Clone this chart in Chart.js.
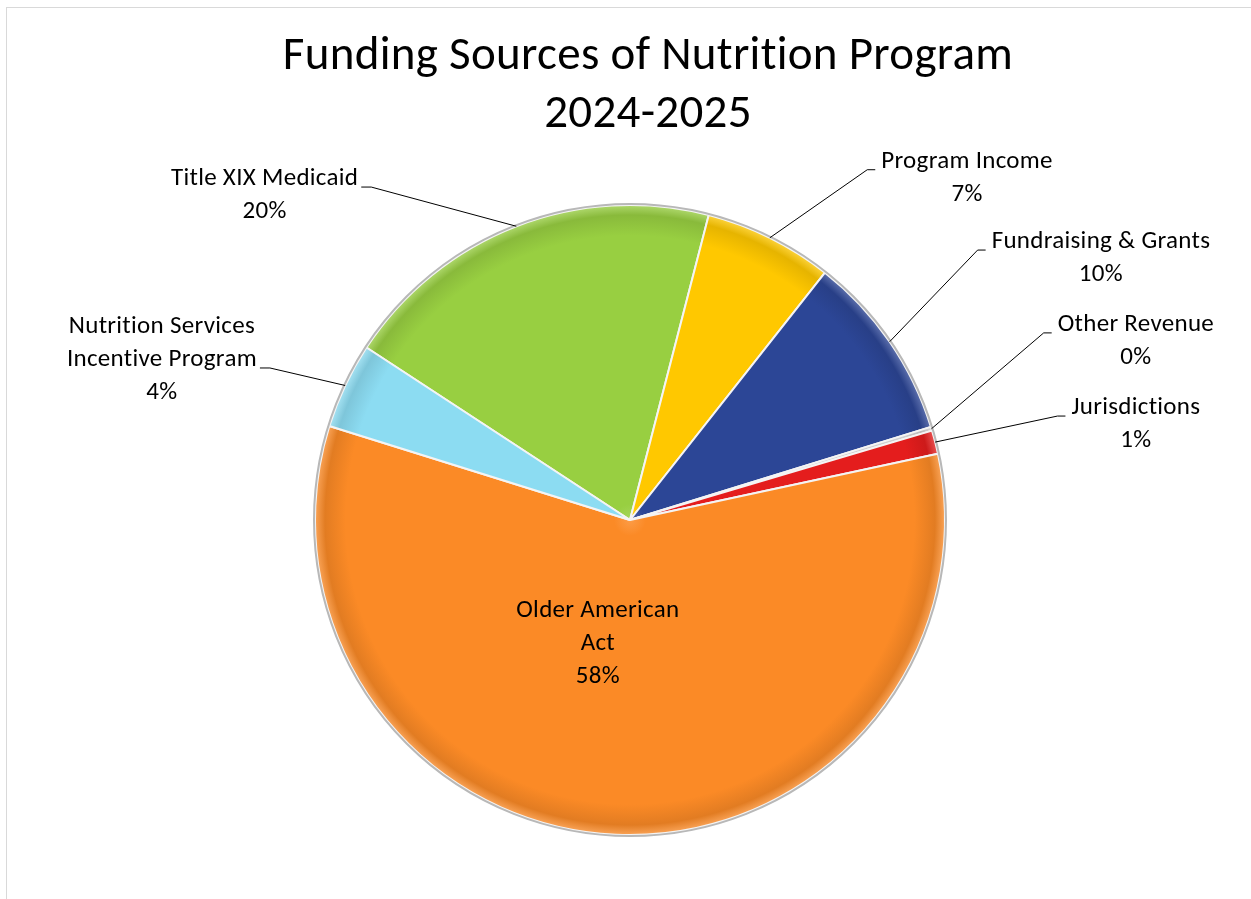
<!DOCTYPE html>
<html>
<head>
<meta charset="utf-8">
<title>Funding Sources of Nutrition Program 2024-2025</title>
<script src="https://cdn.jsdelivr.net/npm/chart.js@4.4.1/dist/chart.umd.min.js"></script>
<style>
    html, body {margin: 0; padding: 0; background: #fff;}
    #wrap {position: relative; width: 1251px; height: 899px; overflow: hidden;}
    #frame {position: absolute; left: 6px; top: 7px; width: 1300px; height: 950px; border: 1px solid #d9d9d9;}
    #pie {position: absolute; left: 0; top: 0;}
</style>
</head>
<body>
<div id="wrap">
    <div id="frame"></div>
    <canvas id="pie" width="1251" height="899" style="width:1251px;height:899px"></canvas>
</div>
<script>
// slices in clockwise order, starting at the Title XIX edge
const sources = ['Title XIX Medicaid', 'Program Income', 'Fundraising & Grants', 'Other Revenue',
    'Jurisdictions', 'Older American Act', 'Nutrition Services Incentive Program'];
const shares = [19.8, 6.6, 9.6, 0.2, 1.2, 58.2, 4.4];
// how each name is broken over lines in the data label
const labelLines = [['Title XIX Medicaid'], ['Program Income'], ['Fundraising & Grants'], ['Other Revenue'],
    ['Jurisdictions'], ['Older American', 'Act'], ['Nutrition Services', 'Incentive Program']];
const sliceColors = ['#98cf41', '#ffc800', '#2c4696', '#d0d0d0', '#e41d1d', '#fb8a26', '#8cdcf2'];

// label centre relative to pie centre, in units of the radius; inside = no leader line
const labelSpots = [[-1.16, -1.03], [1.07, -1.085], [1.495, -0.83], [1.606, -0.567],
    [1.606, -0.303], [-0.102, 0.394], [-1.486, -0.508]];
const insideLabel = [false, false, false, false, false, true, false];

const fontFamily = 'Carlito, Calibri, Lato, sans-serif';

function shade(hex, amt) {
    let n = parseInt(hex.slice(1), 16);
    let r = n >> 16, g = (n >> 8) & 255, b = n & 255;
    const f = c => Math.round(amt >= 0 ? c + (255 - c) * amt : c * (1 + amt));
    return 'rgb(' + f(r) + ',' + f(g) + ',' + f(b) + ')';
}

function sliceFill(context) {
    const base = sliceColors[context.dataIndex];
    const chart = context.chart;
    const area = chart.chartArea;
    if (!area) return base;
    const cx = (area.left + area.right) / 2;
    const cy = (area.top + area.bottom) / 2;
    const r = Math.min(area.width, area.height) / 2;
    const g = chart.ctx.createRadialGradient(cx, cy, 0, cx, cy, r);
    g.addColorStop(0, shade(base, 0.15));
    g.addColorStop(0.05, base);
    g.addColorStop(0.9, base);
    g.addColorStop(0.965, shade(base, -0.1));
    g.addColorStop(1, shade(base, 0.25));
    return g;
}

const titlePlugin = {
    id: 'bigTitle',
    afterDraw(chart) {
        const ctx = chart.ctx;
        const meta = chart.getDatasetMeta(0);
        const cx = meta.data[0].x + 18;
        ctx.save();
        ctx.fillStyle = '#000';
        ctx.textAlign = 'center';
        ctx.textBaseline = 'middle';
        ctx.font = '47px ' + fontFamily;
        ctx.letterSpacing = '0.3px';
        ctx.fillText('Funding Sources of Nutrition Program', cx, 57);
        ctx.fillText('2024-2025', cx, 115);
        ctx.restore();
    }
};

const rimPlugin = {
    id: 'rim',
    afterDatasetsDraw(chart) {
        const arc = chart.getDatasetMeta(0).data[0];
        const ctx = chart.ctx;
        ctx.save();
        ctx.strokeStyle = '#b8b8b8';
        ctx.lineWidth = 2;
        ctx.beginPath();
        ctx.arc(arc.x, arc.y, arc.outerRadius + 1, 0, Math.PI * 2);
        ctx.stroke();
        ctx.restore();
    }
};

const sliceLabels = {
    id: 'sliceLabels',
    afterDraw(chart) {
        const ctx = chart.ctx;
        const meta = chart.getDatasetMeta(0);
        const total = shares.reduce((a, b) => a + b, 0);
        const lh = 33;
        ctx.save();
        ctx.font = '25px ' + fontFamily;
        ctx.letterSpacing = '0.3px';
        ctx.fillStyle = '#000';
        ctx.strokeStyle = '#000';
        ctx.lineWidth = 1;
        ctx.textAlign = 'center';
        ctx.textBaseline = 'middle';
        meta.data.forEach((arc, i) => {
            const p = arc.getProps(['x', 'y', 'startAngle', 'endAngle', 'outerRadius'], true);
            const R = p.outerRadius;
            const lines = labelLines[i].concat(Math.round(shares[i] / total * 100) + '%');
            const cx = p.x + labelSpots[i][0] * R;
            const cy = p.y + labelSpots[i][1] * R;
            const top = cy - (lines.length - 1) * lh / 2;
            lines.forEach((t, k) => ctx.fillText(t, cx, top + k * lh));
            if (insideLabel[i]) return;

            // leader line: from the arc middle to a short elbow next to the text
            const mid = (p.startAngle + p.endAngle) / 2;
            const ax = p.x + Math.cos(mid) * R;
            const ay = p.y + Math.sin(mid) * R;
            const w = Math.max(...lines.map(t => ctx.measureText(t).width));
            const ey = top + (lines.length - 2) * lh + 8;
            let ex, bx;
            if (cx > p.x) {
                ex = cx - w / 2 - 6;
                bx = ex - 8;
            } else {
                ex = cx + w / 2 + 3;
                bx = ex + 10;
            }
            ctx.beginPath();
            ctx.moveTo(ax, ay);
            ctx.lineTo(bx, ey);
            ctx.lineTo(ex, ey);
            ctx.stroke();
        });
        ctx.restore();
    }
};

new Chart(document.getElementById('pie'), {
    type: 'pie',
    data: {
        labels: sources,
        datasets: [{
            data: shares,
            backgroundColor: sliceFill,
            borderColor: '#f4f4f4',
            borderWidth: 2
        }]
    },
    options: {
        responsive: false,
        animation: false,
        rotation: -56.8,
        layout: {padding: {top: 204, bottom: 63, left: 9, right: 0}},
        plugins: {
            legend: {display: false},
            tooltip: {enabled: false}
        }
    },
    plugins: [rimPlugin, sliceLabels, titlePlugin]
});
</script>
</body>
</html>
